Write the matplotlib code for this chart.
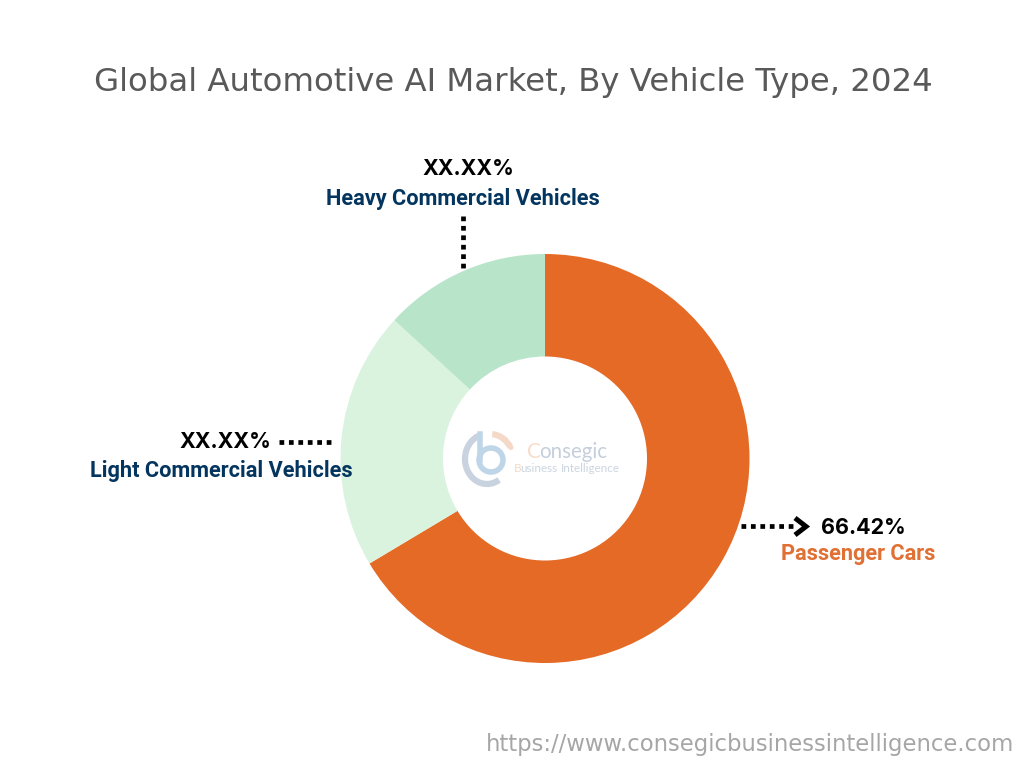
import matplotlib
matplotlib.use('Agg')
import matplotlib.pyplot as plt
from matplotlib.patches import Arc, Circle

title = 'Global Automotive AI Market, By Vehicle Type, 2024'
categories = ['Passenger Cars', 'Light Commercial Vehicles', 'Heavy Commercial Vehicles']
shares = [66.42, 20.4, 13.18]
share_labels = ['66.42%', 'XX.XX%', 'XX.XX%']
colors = ['#E46A26', '#DAF3DF', '#B8E5C9']
source = 'https://www.consegicbusinessintelligence.com'
navy = '#03355F'

H = 768


def yy(py):
    # reference pixels count from the top
    return H - py


fig = plt.figure(figsize=(10.24, 7.68), dpi=100)
ax = fig.add_axes([0, 0, 1, 1])
ax.pie(shares, colors=colors, startangle=90, counterclock=False,
       center=(545, yy(458.5)), radius=204.5, wedgeprops={'width': 102.5})
ax.set_xlim(0, 1024)
ax.set_ylim(0, H)
ax.set_aspect('equal')
ax.axis('off')

ax.text(513, yy(83), title, ha='center', va='center', fontsize=23.3,
        color='#595959', family='DejaVu Sans')

# value and category labels
ax.text(468, yy(169), share_labels[2], ha='center', va='center', fontsize=15.4,
        fontweight='bold', family='Inter', color='black')
ax.text(463, yy(199), categories[2], ha='center', va='center', fontsize=15.7,
        fontweight='bold', family='Roboto', color=navy)
ax.text(225, yy(442), share_labels[1], ha='center', va='center', fontsize=15.4,
        fontweight='bold', family='Inter', color='black')
ax.text(221, yy(471), categories[1], ha='center', va='center', fontsize=15.7,
        fontweight='bold', family='Roboto', color=navy)
ax.text(863, yy(528), share_labels[0], ha='center', va='center', fontsize=15.4,
        fontweight='bold', family='Inter', color='black')
ax.text(858, yy(554), categories[0], ha='center', va='center', fontsize=15.7,
        fontweight='bold', family='Roboto', color='#E07033')

# dotted leaders
dots = {'linestyle': (0, (1, 1)), 'color': 'black', 'linewidth': 3.4}
ax.plot([463, 463], [yy(216), yy(269)], **dots)
ax.plot([279, 332], [yy(442), yy(442)], **dots)
ax.plot([741, 796], [yy(526), yy(526)], **dots)
ax.plot([795, 806, 795], [yy(518), yy(526.5), yy(535)], color='black',
        linewidth=3.6, solid_joinstyle='miter', solid_capstyle='butt')

# faded logo in the hole
ax.add_patch(Arc((487, yy(459)), 44, 50, theta1=110, theta2=300, color='#C9D3DF', lw=4.5))
ax.add_patch(Arc((491, yy(460)), 24, 24, theta1=0, theta2=360, color='#BFD6E8', lw=4))
ax.plot([480, 480], [yy(434), yy(460)], color='#BFD6E8', linewidth=4)
ax.add_patch(Arc((490, yy(459)), 46, 50, theta1=30, theta2=85, color='#F5D9C8', lw=4.5))
ax.add_patch(Circle((511, yy(447.5)), 1.8, color='#F5D9C8'))
ax.text(527, yy(452), 'C', ha='left', va='center', fontsize=15, color='#F7DCCB', family='Lato')
ax.text(539, yy(452), 'onsegic', ha='left', va='center', fontsize=14.8, color='#C5CFDC', family='Lato')
ax.text(514, yy(468.5), 'B', ha='left', va='center', fontsize=8.4, color='#F5D9C8', family='Lato')
ax.text(520, yy(468.5), 'usiness', ha='left', va='center', fontsize=8.4, color='#CBD5E1', family='Lato')
ax.text(561, yy(468.5), 'Intelligence', ha='left', va='center', fontsize=8.4, color='#CBD5E1', family='Lato')

ax.text(1014, yy(744), source, ha='right', va='center', fontsize=16.35,
        color='#A6A6A6', family='DejaVu Sans')

fig.savefig('out.png', dpi=100, facecolor='white')
